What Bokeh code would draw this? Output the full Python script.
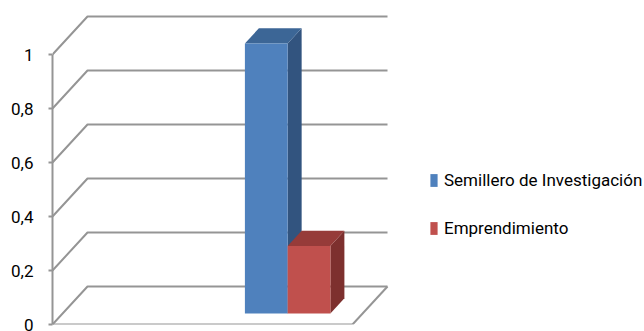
from bokeh.plotting import figure
from bokeh.models import Range1d, FixedTicker, Legend, LegendItem
from bokeh.embed import file_html
from bokeh.resources import INLINE

# ---- data ----
categories = ["", " "]
series_names = ["Semillero de Investigación", "Emprendimiento"]
semillero = [0, 1]
emprendimiento = [0, 0.25]
y_ticks = [0, 0.2, 0.4, 0.6, 0.8, 1]
y_tick_labels = ["0", "0,2", "0,4", "0,6", "0,8", "1"]

series_values = [semillero, emprendimiento]
front_colors = ["#4F81BD", "#C0504D"]
top_colors = ["#3C6696", "#963B39"]
side_colors = ["#32547F", "#7D302E"]

FONT = "Roboto"
GRID = "#959595"

# depth projection (in data units)
DX = 35 / 150.0
DY = 38 / 270.0
D0, D1 = 0.29, 0.69
BAR_W = 0.285

n = len(categories)

p = figure(width=644, height=331, output_backend="svg", toolbar_location=None,
           x_range=Range1d(0, 592 / 150.0), y_range=Range1d(0, 324 / 270.0),
           x_axis_location=None, y_axis_location="left",
           min_border_left=52, min_border_right=0, min_border_top=0, min_border_bottom=7)
p.outline_line_color = None
p.grid.visible = False

# y axis
ax = p.yaxis[0]
ax.ticker = FixedTicker(ticks=y_ticks)
ax.major_label_overrides = {t: l for t, l in zip(y_ticks, y_tick_labels)}
ax.bounds = (0, 1)
ax.axis_line_color = GRID
ax.axis_line_width = 2
ax.major_tick_line_color = GRID
ax.major_tick_line_width = 2
ax.major_tick_out = 4
ax.major_tick_in = 0
ax.minor_tick_line_color = None
ax.major_label_text_font = FONT
ax.major_label_text_font_size = "17px"
ax.major_label_text_color = "#000000"
ax.major_label_standoff = 15

# walls / floor grid
gxs, gys = [], []
for v in y_ticks:
    gxs.append([0, DX, n + DX])
    gys.append([v, v + DY, v + DY])
gxs.append([0, n]); gys.append([0, 0])
gxs.append([n, n + DX]); gys.append([0, DY])
p.multi_line(gxs, gys, line_color=GRID, line_width=2)

def proj(x, v, d):
    return x + d * DX, v + d * DY

items = []
ns = len(series_values)
for j, vals in enumerate(series_values):
    fx, fy, tx, ty, sx, sy = [], [], [], [], [], []
    for i, v in enumerate(vals):
        if v == 0:
            continue
        xl = i + 0.5 - BAR_W * ns / 2 + j * BAR_W
        xr = xl + BAR_W
        pts = [proj(xl, 0, D0), proj(xr, 0, D0), proj(xr, v, D0), proj(xl, v, D0)]
        fx.append([q[0] for q in pts]); fy.append([q[1] for q in pts])
        pts = [proj(xl, v, D0), proj(xr, v, D0), proj(xr, v, D1), proj(xl, v, D1)]
        tx.append([q[0] for q in pts]); ty.append([q[1] for q in pts])
        pts = [proj(xr, 0, D0), proj(xr, v, D0), proj(xr, v, D1), proj(xr, 0, D1)]
        sx.append([q[0] for q in pts]); sy.append([q[1] for q in pts])
    p.patches(sx, sy, fill_color=side_colors[j], line_color=None)
    p.patches(tx, ty, fill_color=top_colors[j], line_color=None)
    r = p.patches(fx, fy, fill_color=front_colors[j], line_color=None)
    items.append(LegendItem(label=series_names[j], renderers=[r]))

legend = Legend(items=items, location=(377, 84), glyph_width=9, glyph_height=16,
                label_standoff=6, padding=0, margin=0, spacing=24, label_height=24,
                border_line_color=None, background_fill_alpha=0,
                label_text_font=FONT, label_text_font_size="17px",
                label_text_color="#000000")
p.add_layout(legend)

open("out.html", "w").write(file_html(p, INLINE))
